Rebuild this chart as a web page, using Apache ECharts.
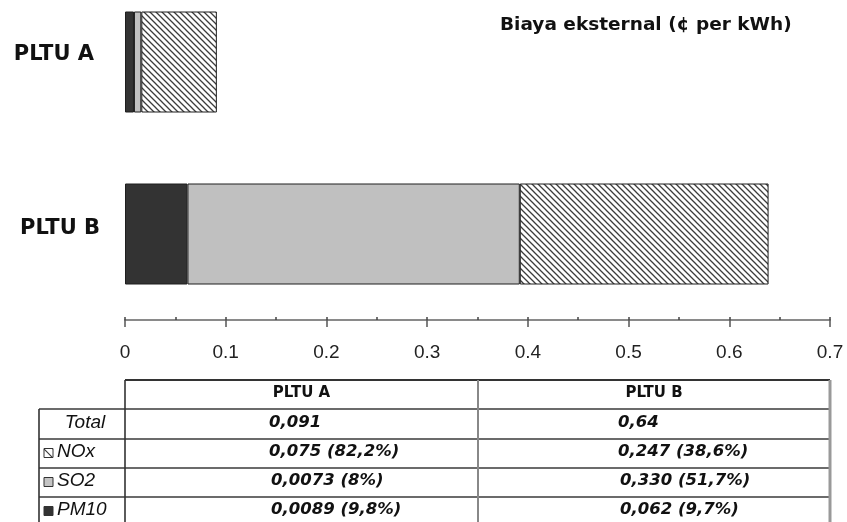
<!DOCTYPE html>
<html>
<head>
<meta charset="utf-8">
<script src="https://cdn.jsdelivr.net/npm/echarts@6/dist/echarts.min.js"></script>
<style>
  html, body { margin: 0; padding: 0; background: #fff; }
  #chart { width: 847px; height: 522px; }
</style>
</head>
<body>
<div id="chart"></div>
<script>
// Power plants and their external cost components (¢ per kWh)
const plants = ['PLTU A', 'PLTU B'];
const totalVals = ['0,091', '0,64'];
const noxVals = ['0,075', '0,247'];
const so2Vals = ['0,0073', '0,330'];
const pm10Vals = ['0,0089', '0,062'];
const noxPct = ['82,2%', '38,6%'];
const so2Pct = ['8%', '51,7%'];
const pm10Pct = ['9,8%', '9,7%'];
const axisTicks = [0, 0.1, 0.2, 0.3, 0.4, 0.5, 0.6, 0.7];

const num = s => parseFloat(s.replace(',', '.'));

// diagonal hatch used for the NOx segment
function hatch(step, width) {
  const c = document.createElement('canvas');
  c.width = step; c.height = step;
  const g = c.getContext('2d');
  g.fillStyle = '#fff';
  g.fillRect(0, 0, step, step);
  g.strokeStyle = '#3c3c3c';
  g.lineWidth = width;
  g.beginPath();
  g.moveTo(-1, -1); g.lineTo(step + 1, step + 1);
  g.moveTo(step - 1, -1); g.lineTo(step + 1, 1);
  g.moveTo(-1, step - 1); g.lineTo(1, step + 1);
  g.stroke();
  return c;
}
const hatchFill = { image: hatch(6, 1.3), repeat: 'repeat' };
const swatchHatch = { image: hatch(9, 1.2), repeat: 'repeat' };

const chart = echarts.init(document.getElementById('chart'), null, { renderer: 'canvas' });

const border = { borderColor: '#1e1e1e', borderWidth: 1 };

// table below the axis
const tblLeft = 39, colA = 125, colMid = 478, colRight = 830;
const headTop = 380, rowLines = [409, 439, 468, 497], bottom = 522;
const rowCenters = [423, 452, 481, 510];
const g = [];
const line = (x1, y1, x2, y2, stroke, w) => g.push({
  type: 'line', shape: { x1, y1, x2, y2 }, style: { stroke, lineWidth: w }, silent: true
});
line(colA, headTop, colRight, headTop, '#333', 2);
rowLines.forEach(y => line(tblLeft, y, colRight, y, '#3a3a3a', 1.6));
line(tblLeft, rowLines[0], tblLeft, bottom, '#333', 1.6);
line(colA, headTop, colA, bottom, '#333', 1.6);
line(colMid, headTop, colMid, bottom, '#888', 2);
line(colRight, headTop, colRight, bottom, '#999', 3);

const text = (x, y, t, font, align) => g.push({
  type: 'text', x, y, silent: true,
  style: { text: t, font, fill: '#111', textAlign: align || 'left', textVerticalAlign: 'middle' }
});
const headFont = 'bold 15px "DejaVu Sans"';
text((colA + colMid) / 2, 393, plants[0], headFont, 'center');
text((colMid + colRight) / 2, 393, plants[1], headFont, 'center');

const rowFont = 'italic 19px "Liberation Sans"';
text(85, rowCenters[0], 'Total', rowFont, 'center');
text(57, rowCenters[1], 'NOx', rowFont);
text(57, rowCenters[2], 'SO2', rowFont);
text(57, rowCenters[3], 'PM10', rowFont);

// legend swatches in the row headers
const swatch = (y, fill) => g.push({
  type: 'rect', silent: true, shape: { x: 44, y: y - 4.5, width: 9, height: 9 },
  style: { fill, stroke: '#333', lineWidth: 1 }
});
swatch(rowCenters[1] + 1, swatchHatch);
swatch(rowCenters[2] + 1, '#c4c4c4');
swatch(rowCenters[3] + 1, '#333');

const valFont = 'italic bold 16.5px "DejaVu Sans"';
const colX = [269, 618];
[0, 1].forEach(i => {
  text(colX[i], rowCenters[0], totalVals[i], valFont);
  text(colX[i], rowCenters[1], noxVals[i] + ' (' + noxPct[i] + ')', valFont);
  text(colX[i] + 2, rowCenters[2], so2Vals[i] + ' (' + so2Pct[i] + ')', valFont);
  text(colX[i] + 2, rowCenters[3], pm10Vals[i] + ' (' + pm10Pct[i] + ')', valFont);
});

const xMin = axisTicks[0], xMax = axisTicks[axisTicks.length - 1];
const xStep = axisTicks[1] - axisTicks[0];

chart.setOption({
  backgroundColor: '#fff',
  animation: false,
  title: {
    text: 'Biaya eksternal (¢ per kWh)',
    left: 495, top: 11,
    textStyle: { fontFamily: 'DejaVu Sans', fontWeight: 'bold', fontSize: 18.5, color: '#111' }
  },
  grid: {
    left: colA, right: 847 - colRight, top: -24, bottom: 522 - 320,
    containLabel: false, outerBoundsMode: 'none'
  },
  xAxis: [{
    type: 'value', position: 'bottom', min: xMin, max: xMax, interval: xStep,
    axisLine: { show: true, lineStyle: { color: '#8a8a8a', width: 2 } },
    axisTick: { show: true, inside: false, length: 7, lineStyle: { color: '#555', width: 1.5 } },
    axisLabel: { margin: 23, fontFamily: 'Liberation Sans', fontSize: 19, color: '#222' },
    splitLine: { show: false }
  }, {
    type: 'value', position: 'bottom', offset: 0, min: xMin, max: xMax, interval: xStep / 2,
    axisLine: { show: false },
    axisTick: { show: true, inside: true, length: 3, lineStyle: { color: '#444', width: 1.5 } },
    axisLabel: { show: false },
    splitLine: { show: false }
  }],
  yAxis: {
    type: 'category', data: plants, inverse: true,
    axisLine: { show: false }, axisTick: { show: false },
    axisLabel: {
      margin: 25,
      formatter: (v, i) => (i === 0 ? '{a|' : '{b|') + v + '}',
      rich: {
        a: { fontFamily: 'DejaVu Sans', fontWeight: 'bold', fontSize: 21, color: '#111', padding: [0, 6, 14, 0] },
        b: { fontFamily: 'DejaVu Sans', fontWeight: 'bold', fontSize: 21, color: '#111', padding: [0, 0, 10, 0] }
      }
    }
  },
  series: [
    { name: 'PM10', type: 'bar', stack: 'cost', barWidth: 101, data: pm10Vals.map(num),
      itemStyle: Object.assign({ color: '#333' }, border) },
    { name: 'SO2', type: 'bar', stack: 'cost', barWidth: 101, data: so2Vals.map(num),
      itemStyle: Object.assign({ color: '#c0c0c0' }, border) },
    { name: 'NOx', type: 'bar', stack: 'cost', barWidth: 101, data: noxVals.map(num),
      itemStyle: Object.assign({ color: hatchFill }, border) }
  ],
  graphic: g
});
</script>
</body>
</html>
